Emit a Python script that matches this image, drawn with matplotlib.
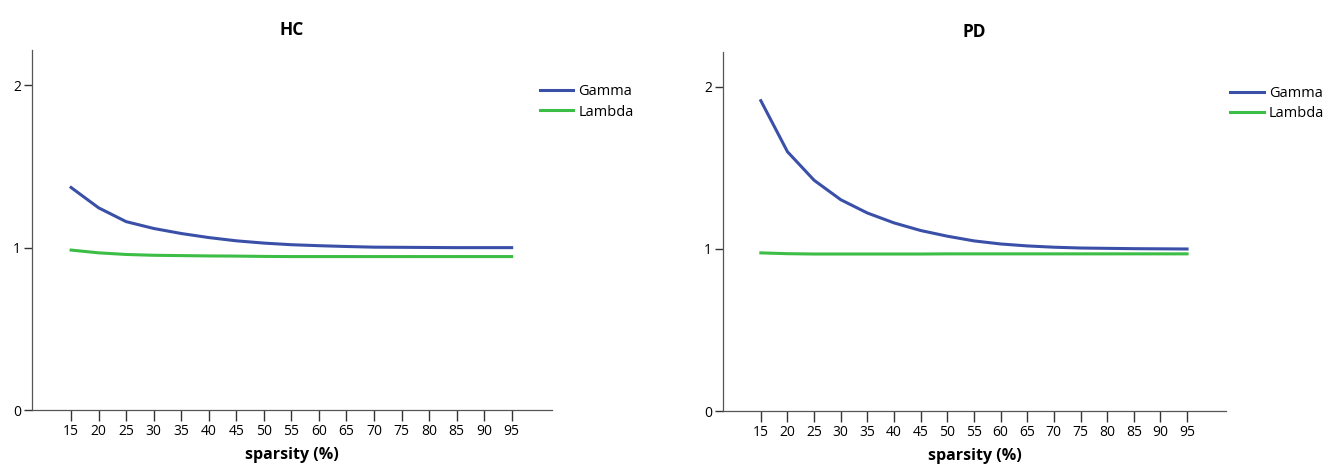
import matplotlib
matplotlib.use("Agg")
import matplotlib.pyplot as plt

plt.rcParams['font.family'] = ['Open Sans', 'DejaVu Sans']

sparsity = [15, 20, 25, 30, 35, 40, 45, 50, 55, 60, 65, 70, 75, 80, 85, 90, 95]

hc_gamma = [1.37, 1.245, 1.16, 1.118, 1.087, 1.062, 1.042, 1.028, 1.018, 1.012,
            1.007, 1.003, 1.002, 1.001, 1.0, 1.0, 1.0]
hc_lambda = [0.985, 0.968, 0.958, 0.953, 0.951, 0.949, 0.948, 0.946, 0.945, 0.945,
             0.945, 0.945, 0.945, 0.945, 0.945, 0.945, 0.945]

pd_gamma = [1.915, 1.60, 1.424, 1.304, 1.222, 1.161, 1.114, 1.079, 1.05, 1.031,
            1.019, 1.011, 1.006, 1.004, 1.002, 1.001, 1.0]
pd_lambda = [0.976, 0.971, 0.969, 0.969, 0.969, 0.969, 0.969, 0.97, 0.97, 0.97,
             0.97, 0.97, 0.97, 0.97, 0.97, 0.97, 0.97]

titles = ["HC", "PD"]
blue = "#3a50a8"
green = "#3cbd45"

fig = plt.figure(figsize=(13.33, 4.65), dpi=100)
ax1 = fig.add_axes([0.024, 0.118, 0.390, 0.774])
ax2 = fig.add_axes([0.5424, 0.116, 0.3773, 0.772])

panels = [(ax1, hc_gamma, hc_lambda, 0.977), (ax2, pd_gamma, pd_lambda, 1.008)]
for (ax, g, l, lx), title in zip(panels, titles):
    ax.plot(sparsity, g, color=blue, lw=2.2, label="Gamma")
    ax.plot(sparsity, l, color=green, lw=2.2, label="Lambda")
    ax.set_xlim(7.9, 102.3)
    ax.set_ylim(0, 2.215)
    ax.set_xticks(sparsity)
    ax.set_yticks([0, 1, 2])
    for s in ["top", "right"]:
        ax.spines[s].set_visible(False)
    for s in ["left", "bottom"]:
        ax.spines[s].set_color("#555555")
        ax.spines[s].set_linewidth(0.9)
    ax.tick_params(axis="x", length=8, width=1, color="#333333", labelsize=10, pad=2)
    ax.tick_params(axis="y", length=6, width=1, color="#333333", labelsize=10, pad=2)
    ax.set_title(title, fontsize=12.5, fontweight="bold", pad=11)
    ax.set_xlabel("sparsity (%)", fontsize=11.5, fontweight="bold", labelpad=6)
    ax.legend(loc="upper left", bbox_to_anchor=(lx, 0.905), frameon=False,
              fontsize=10.5, handlelength=2.3, handletextpad=0.35, borderpad=0,
              borderaxespad=0, labelspacing=0.35)

fig.savefig("out.png", dpi=100)
